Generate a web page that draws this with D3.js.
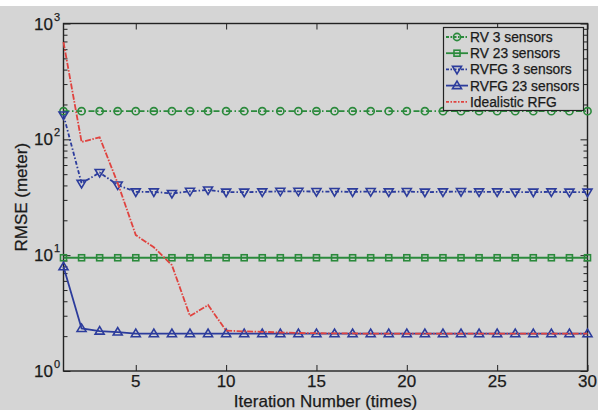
<!DOCTYPE html>
<html>
<head>
<meta charset="utf-8">
<script src="https://cdn.jsdelivr.net/npm/d3@7"></script>
<style>
  html, body { margin: 0; padding: 0; background: #d5d5d5; }
  svg { display: block; }
  text { font-family: "Liberation Sans", Arial, Helvetica, sans-serif; fill: #1a1a1a; stroke: #1a1a1a; stroke-width: 0.25; }
</style>
</head>
<body>
<svg id="chart" width="598" height="410"></svg>
<script>
// Iteration index 1..30
const iterations = d3.range(1, 31);

// RMSE (meter) per iteration for each method
const rv3 = [175,175,175,175,175,175,175,175,175,175,175,175,175,175,175,175,175,175,175,175,175,175,175,175,175,175,175,175,175,175];
const rv23 = [9.5,9.5,9.5,9.5,9.5,9.5,9.5,9.5,9.5,9.5,9.5,9.5,9.5,9.5,9.5,9.5,9.5,9.5,9.5,9.5,9.5,9.5,9.5,9.5,9.5,9.5,9.5,9.5,9.5,9.5];
const rvfg3 = [162,41.7,51.7,40.3,35.2,35.2,34.1,35.6,36.5,35,35,35.2,35.6,35.6,35.4,35.4,35.2,35.4,35.2,35.4,35,35.2,35.4,35.2,35.2,35,35,35.2,35,35];
const rvfg23 = [7.94,2.33,2.21,2.17,2.1,2.1,2.1,2.1,2.1,2.1,2.1,2.1,2.1,2.1,2.1,2.1,2.1,2.1,2.1,2.1,2.1,2.1,2.1,2.1,2.1,2.1,2.1,2.1,2.1,2.1];
const idealRfg = [690,95,104,41.9,14.9,11.7,8.2,2.98,3.71,2.23,2.2,2.18,2.15,2.13,2.12,2.11,2.11,2.1,2.1,2.1,2.1,2.1,2.1,2.1,2.1,2.1,2.1,2.1,2.1,2.1];

const seriesNames = ["RV 3 sensors", "RV 23 sensors", "RVFG 3 sensors", "RVFG 23 sensors", "Idealistic RFG"];
const xTickValues = [5, 10, 15, 20, 25, 30];
const yTickExponents = [0, 1, 2, 3];

const svg = d3.select("#chart");
const W = 598, H = 410;
const margin = { left: 63.5, right: 598 - 587.5, top: 23.5, bottom: 410 - 371 };
const plotW = W - margin.left - margin.right;
const plotH = H - margin.top - margin.bottom;

// white strip along the top edge
svg.append("rect").attr("x", 0).attr("y", 0).attr("width", W).attr("height", 6).attr("fill", "#ffffff");

const x = d3.scaleLinear().domain([1, 30]).range([margin.left, margin.left + plotW]);
const y = d3.scaleLog().domain([1, 1000]).range([margin.top + plotH, margin.top]);

const green = "#2b8a3c", blue = "#2c3c9c", red = "#e0433f";

const series = [
  { name: seriesNames[0], values: rv3,      color: green, dash: "6,2.5,1.5,2.5", marker: "circle" },
  { name: seriesNames[1], values: rv23,     color: green, dash: null,            marker: "square" },
  { name: seriesNames[2], values: rvfg3,    color: blue,  dash: "4,2,1.5,2",     marker: "down" },
  { name: seriesNames[3], values: rvfg23,   color: blue,  dash: null,            marker: "up" },
  { name: seriesNames[4], values: idealRfg, color: red,   dash: "6,1.5,1.5,1.5", marker: null }
];

const g = svg.append("g");

// axes with inward ticks on all four sides
const xBottom = d3.axisBottom(x).tickValues(xTickValues).tickSize(-6).tickFormat("");
const xTop = d3.axisTop(x).tickValues(xTickValues).tickSize(-6).tickFormat("");
g.append("g").attr("transform", `translate(0,${margin.top + plotH})`).call(xBottom);
g.append("g").attr("transform", `translate(0,${margin.top})`).call(xTop);

const majorY = yTickExponents.map(e => Math.pow(10, e));
const minorY = [];
for (let e = 0; e < 3; e++) for (let k = 2; k <= 9; k++) minorY.push(k * Math.pow(10, e));

const yl = d3.axisLeft(y).tickValues(majorY).tickSize(-7).tickFormat("");
const ylm = d3.axisLeft(y).tickValues(minorY).tickSize(-4).tickFormat("");
const yr = d3.axisRight(y).tickValues(majorY).tickSize(-7).tickFormat("");
const yrm = d3.axisRight(y).tickValues(minorY).tickSize(-4).tickFormat("");
g.append("g").attr("transform", `translate(${margin.left},0)`).call(yl);
g.append("g").attr("transform", `translate(${margin.left},0)`).call(ylm);
g.append("g").attr("transform", `translate(${margin.left + plotW},0)`).call(yr);
g.append("g").attr("transform", `translate(${margin.left + plotW},0)`).call(yrm);

g.selectAll(".domain").remove();
g.selectAll(".tick line").attr("stroke", "#222").attr("stroke-width", 1);

// frame
g.append("rect")
  .attr("x", margin.left).attr("y", margin.top)
  .attr("width", plotW).attr("height", plotH)
  .attr("fill", "none").attr("stroke", "#222").attr("stroke-width", 1.4);

// x tick labels
g.selectAll(".xlab").data(xTickValues).enter().append("text")
  .attr("x", d => x(d)).attr("y", 387)
  .attr("text-anchor", "middle").attr("font-size", 17)
  .text(d => d);

// y tick labels 10^n
yTickExponents.forEach(e => {
  g.append("text")
    .attr("x", 53).attr("y", y(Math.pow(10, e)) + 6)
    .attr("text-anchor", "end").attr("font-size", 17)
    .text("10");
  g.append("text")
    .attr("x", 54).attr("y", y(Math.pow(10, e)) - 3)
    .attr("font-size", 11)
    .text(e);
});

// axis titles
g.append("text")
  .attr("x", x(1) + plotW / 2).attr("y", 406.5)
  .attr("text-anchor", "middle").attr("font-size", 17)
  .text("Iteration Number (times)");
g.append("text")
  .attr("transform", `translate(27,${margin.top + plotH / 2}) rotate(-90)`)
  .attr("text-anchor", "middle").attr("font-size", 17)
  .text("RMSE (meter)");

// marker drawing helper
function drawMarker(sel, type, color) {
  if (type === "circle") {
    sel.append("circle").attr("r", 3.6);
  } else if (type === "square") {
    sel.append("rect").attr("x", -3).attr("y", -3).attr("width", 6).attr("height", 6);
  } else if (type === "down") {
    sel.append("path").attr("d", "M-4.5,-3 L4.5,-3 L0,4.5 Z");
  } else if (type === "up") {
    sel.append("path").attr("d", "M-4.5,3 L4.5,3 L0,-4.5 Z");
  }
  sel.selectAll("circle,rect,path")
    .attr("fill", "none").attr("stroke", color).attr("stroke-width", 1.6);
}

const line = d3.line().x((d, i) => x(iterations[i])).y(d => y(d));

const plot = g.append("g");
series.forEach(s => {
  plot.append("path")
    .datum(s.values)
    .attr("d", line)
    .attr("fill", "none")
    .attr("stroke", s.color)
    .attr("stroke-width", 1.8)
    .attr("stroke-dasharray", s.dash);
  if (s.marker) {
    const m = plot.append("g").selectAll("g").data(s.values).enter().append("g")
      .attr("transform", (d, i) => `translate(${x(iterations[i])},${y(d)})`);
    drawMarker(m, s.marker, s.color);
  }
});

// legend
const lg = g.append("g");
lg.append("rect")
  .attr("x", 443.5).attr("y", 27.5).attr("width", 140).attr("height", 83)
  .attr("fill", "#d5d5d5").attr("stroke", "#222").attr("stroke-width", 1.2);
series.forEach((s, i) => {
  const cy = 37 + i * 16.2;
  lg.append("line")
    .attr("x1", 446).attr("x2", 468).attr("y1", cy).attr("y2", cy)
    .attr("stroke", s.color).attr("stroke-width", 1.8)
    .attr("stroke-dasharray", s.dash ? "3,1.5,1.5,1.5" : null);
  if (s.marker) {
    const m = lg.append("g").attr("transform", `translate(457,${cy})`);
    drawMarker(m, s.marker, s.color);
  }
  lg.append("text")
    .attr("x", 470).attr("y", cy + 5)
    .attr("font-size", 13.8)
    .text(s.name);
});
</script>
</body>
</html>
